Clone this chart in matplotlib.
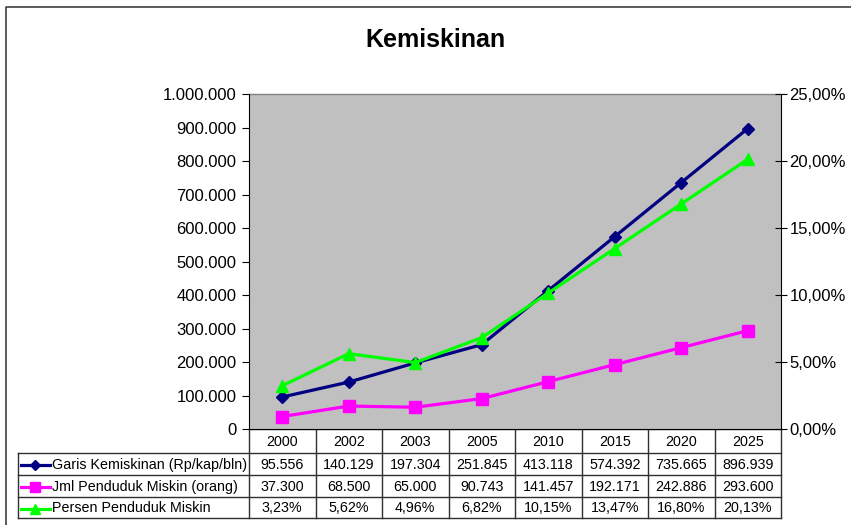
import numpy as np
import matplotlib
matplotlib.use("Agg")
import matplotlib.pyplot as plt

plt.rcParams['font.family'] = ['Liberation Sans', 'DejaVu Sans']

# data
years = ['2000', '2002', '2003', '2005', '2010', '2015', '2020', '2025']
garis = [95556, 140129, 197304, 251845, 413118, 574392, 735665, 896939]
jml = [37300, 68500, 65000, 90743, 141457, 192171, 242886, 293600]
persen = [3.23, 5.62, 4.96, 6.82, 10.15, 13.47, 16.80, 20.13]
names = ['Garis Kemiskinan (Rp/kap/bln)', 'Jml Penduduk Miskin (orang)', 'Persen Penduduk Miskin']

navy = '#000080'
pink = '#FF00FF'
green = '#00FF00'

W, H = 851, 525
fig = plt.figure(figsize=(W / 100, H / 100), dpi=100)

# overlay in pixel coords for border + data table
ov = fig.add_axes([0, 0, 1, 1])
ov.set_xlim(0, W)
ov.set_ylim(H, 0)
ov.axis('off')

# plot area box (pixels)
L, R, T, B = 249, 781, 94, 429
ax = fig.add_axes([L / W, 1 - B / H, (R - L) / W, (B - T) / H])
ax.set_facecolor('#C0C0C0')
x = np.arange(len(years))

ax.plot(x, jml, color=pink, lw=2.3, marker='s', ms=8.5, zorder=3)
ax.plot(x, garis, color=navy, lw=2.3, marker='D', ms=6.5, zorder=4)
ax.set_xlim(-0.5, len(years) - 0.5)
ax.set_ylim(0, 1000000)
lticks = np.arange(0, 1000001, 100000)
ax.set_yticks(lticks)
ax.set_yticklabels([f"{v:,.0f}".replace(",", ".") for v in lticks])
ax.set_xticks([])
ax.tick_params(axis='y', direction='out', length=5, labelsize=12, pad=4)
for s in ['top', 'right']:
    ax.spines[s].set_visible(False)

ax2 = ax.twinx()
ax2.plot(x, persen, color=green, lw=2.3, marker='^', ms=9, zorder=3)
ax2.set_ylim(0, 25)
rticks = np.arange(0, 26, 5)
ax2.set_yticks(rticks)
ax2.set_yticklabels([f"{v:.2f}%".replace(".", ",") for v in rticks])
ax2.tick_params(axis='y', direction='inout', length=8, labelsize=12, pad=2)
for s in ['top', 'left', 'bottom']:
    ax2.spines[s].set_visible(False)
ax.plot([-0.5, len(years) - 0.5], [1000000, 1000000], color='#808080', lw=1, clip_on=False)

# title
fig.text(435 / W, 1 - 40 / H, 'Kemiskinan', ha='center', va='center',
         fontsize=18, fontweight='bold')

# outer chart border
ov.plot([6, 6, W + 5], [H + 5, 7, 7], color='#404040', lw=1.2, clip_on=False)

# data table
tc = '#303030'
cw = (R - L) / len(years)
rows_y = [453, 475, 497, 518]
TL = 18
ov.plot([L, R], [B, B], color=tc, lw=1)
for yy in rows_y:
    ov.plot([TL, R], [yy, yy], color=tc, lw=1)
for i in range(len(years) + 1):
    ov.plot([L + i * cw] * 2, [B, rows_y[-1]], color=tc, lw=1)
ov.plot([TL, TL], [rows_y[0], rows_y[-1]], color=tc, lw=1)

fs = 10.3
for i, yr in enumerate(years):
    ov.text(L + (i + 0.5) * cw, (B + rows_y[0]) / 2 + 1, yr, ha='center', va='center', fontsize=fs)

row_vals = [
    [f"{v:,.0f}".replace(",", ".") for v in garis],
    [f"{v:,.0f}".replace(",", ".") for v in jml],
    [f"{v:.2f}%".replace(".", ",") for v in persen],
]
styles = [(navy, 'D', 5), (pink, 's', 7), (green, '^', 7.5)]
for r in range(3):
    yc = (rows_y[r] + rows_y[r + 1]) / 2 + 1
    c, m, s = styles[r]
    ov.plot([21, 50], [yc, yc], color=c, lw=2.3)
    ov.plot([35], [yc], color=c, marker=m, ms=s)
    ov.text(52, yc, names[r], ha='left', va='center', fontsize=fs)
    for i, v in enumerate(row_vals[r]):
        ov.text(L + (i + 0.5) * cw, yc, v, ha='center', va='center', fontsize=fs)

fig.savefig('out.png', dpi=100)
